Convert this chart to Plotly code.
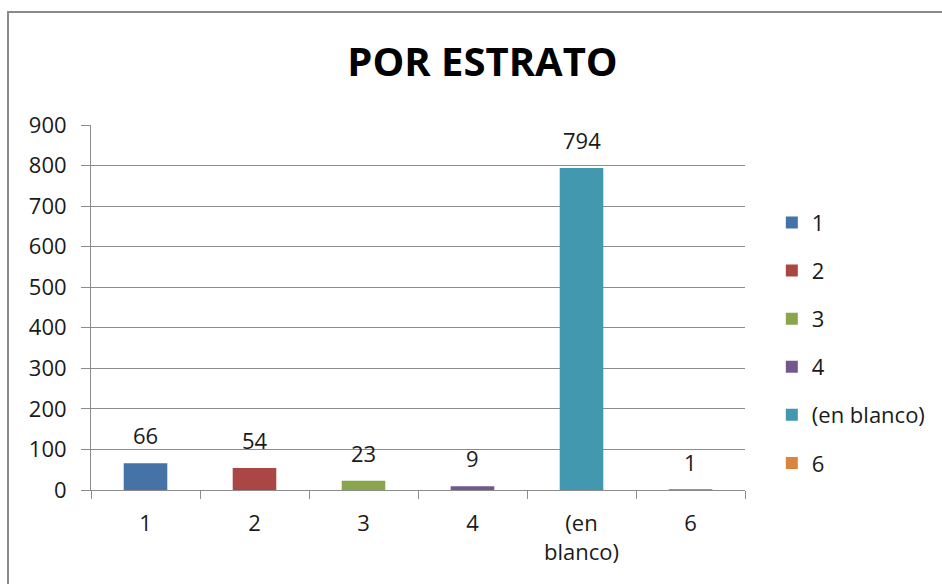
import plotly.graph_objects as go

categories = ["1", "2", "3", "4", "(en blanco)", "6"]
tick_labels = ["1", "2", "3", "4", "(en<br>blanco)", "6"]
values = [66, 54, 23, 9, 794, 1]
colors = ["#4572A7", "#AA4643", "#89A54E", "#71588F", "#4198AF", "#DB843D"]

FONT = "Open Sans"
GRID = "#8c8c8c"
TXT = "#1a1a1a"

fig = go.Figure()
for i, (cat, val, col) in enumerate(zip(categories, values, colors)):
    fig.add_trace(go.Bar(
        x=[cat], y=[val], name=cat, marker=dict(color=col, line=dict(width=0)),
        width=0.4, legendgroup=f"g{i}", showlegend=True,
    ))
    fig.add_annotation(x=i, y=val, xref="x", yref="y", text=str(val), showarrow=False,
                       yanchor="middle", yshift=28,
                       font=dict(family=FONT, size=22, color=TXT))

fig.update_layout(
    width=942, height=584,
    margin=dict(l=91, r=197, t=125, b=94, autoexpand=False),
    paper_bgcolor="white", plot_bgcolor="white",
    barmode="overlay",
    title=dict(text="<b>POR ESTRATO</b>", x=482.5 / 942, xanchor="center",
               xref="container", y=1 - 62 / 584, yanchor="middle",
               font=dict(family=FONT, size=40, color="#000")),
    font=dict(family=FONT, size=22, color=TXT),
    legend=dict(x=1.041, xanchor="left", y=0.79, yanchor="top",
                tracegroupgap=16.5, font=dict(family=FONT, size=22, color=TXT),
                itemwidth=30),
    xaxis=dict(type="category", categoryorder="array", categoryarray=categories,
               tickvals=categories, ticktext=tick_labels, range=[-0.5, 5.5],
               showgrid=False, showline=True, linecolor=GRID, linewidth=1,
               ticks="outside", tickson="boundaries", ticklen=8, tickcolor=GRID,
               ticklabelstandoff=14,
               tickfont=dict(family=FONT, size=22, color=TXT)),
    yaxis=dict(range=[0, 900], dtick=100, showgrid=True, gridcolor=GRID, gridwidth=1,
               showline=True, linecolor=GRID, linewidth=1,
               ticks="outside", ticklen=9, tickcolor=GRID, zeroline=False,
               ticklabelstandoff=10,
               tickfont=dict(family=FONT, size=22, color=TXT)),
    shapes=[dict(type="rect", xref="paper", yref="paper",
                 x0=(8 - 91) / 654, x1=(960 - 91) / 654,
                 y0=(490 - 600) / 365, y1=(490 - 12) / 365,
                 line=dict(color="#8a8a8a", width=2), fillcolor="rgba(0,0,0,0)",
                 layer="below")],
)

fig.write_html("out.html")
